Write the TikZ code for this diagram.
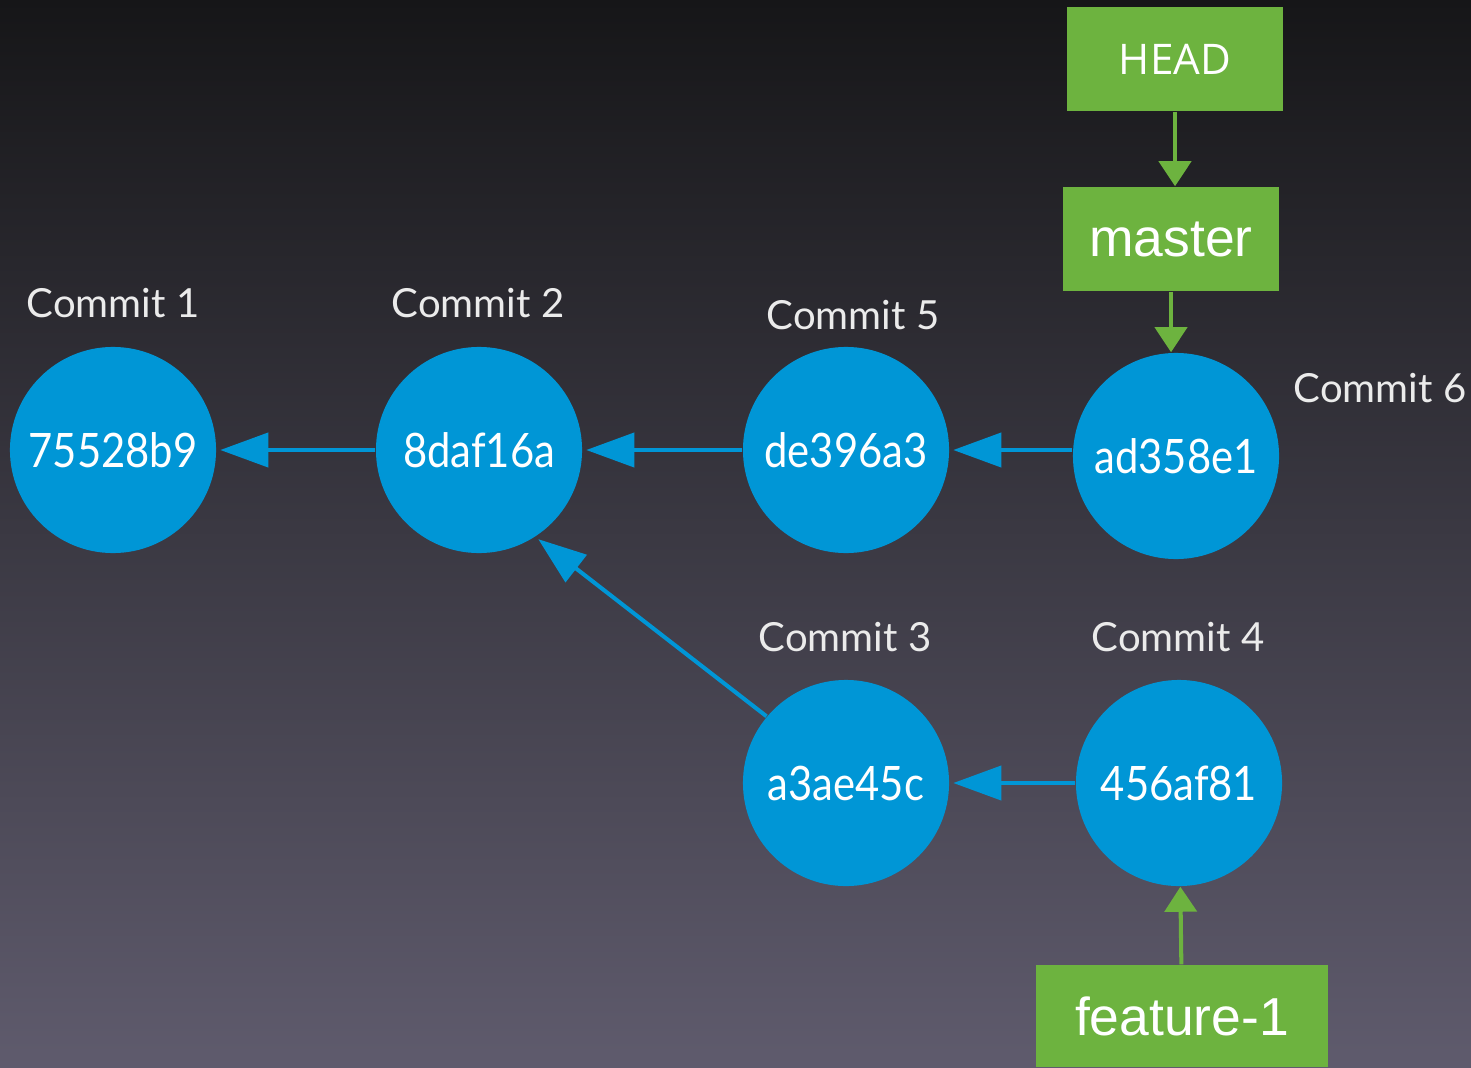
\documentclass[tikz,border=0pt]{standalone}
\usepackage{fontspec}
\setmainfont{Lato}
\newfontfamily\hashfont[FakeStretch=0.88]{Lato}
\newfontfamily\branchfont{Liberation Sans}
\newfontfamily\headfont{Open Sans}
\usetikzlibrary{arrows.meta}
\definecolor{commitblue}{RGB}{0,150,214}
\definecolor{branchgreen}{RGB}{109,179,63}
\definecolor{bgtop}{RGB}{22,22,24}
\definecolor{bgbottom}{RGB}{95,91,109}
\tikzset{
  commit/.style={circle, fill=commitblue, minimum size=2.06cm, inner sep=0pt, text=white, font=\hashfont\fontsize{13.5}{16}\selectfont},
  commitlabel/.style={text=white!92!black, font=\fontsize{11.4}{14}\selectfont},
  branch/.style={rectangle, fill=branchgreen, minimum width=2.16cm, minimum height=1.04cm, inner sep=0pt, text=white, font=\branchfont\fontsize{15.2}{18}\selectfont},
  parentarrow/.style={draw=commitblue, line width=1.15pt, -{Triangle[length=0.48cm, width=0.34cm]}, shorten >=1pt},
  refarrow/.style={draw=branchgreen, line width=1.15pt, -{Triangle[length=0.25cm, width=0.32cm]}},
}

\begin{document}
\begin{tikzpicture}[x=0.01cm, y=-0.01cm]
\shade[top color=bgtop, bottom color=bgbottom] (0,0) rectangle (1471,1067);
\useasboundingbox (0,0) rectangle (1471,1067);
% commits
\node[commit] (c1) at (113,450) {75528b9};
\node[commit] (c2) at (479,450) {8daf16a};
\node[commit] (c5) at (846,450) {de396a3};
\node[commit] (c6) at (1176,456) {ad358e1};
\node[commit] (c3) at (846,783) {a3ae45c};
\node[commit] (c4) at (1179,783) {456af81};
\node[commitlabel] (c1lbl) at (113,303) {Commit 1};
\node[commitlabel] (c2lbl) at (478,303) {Commit 2};
\node[commitlabel] (c5lbl) at (853,315) {Commit 5};
\node[commitlabel] (c6lbl) at (1380,388) {Commit 6};
\node[commitlabel] (c3lbl) at (845,637) {Commit 3};
\node[commitlabel] (c4lbl) at (1178,637) {Commit 4};
% branches
\node[branch, font=\headfont\fontsize{12}{14}\selectfont] (head) at (1175,59) {HEAD};
\node[branch] (master) at (1171,239) {master};
\node[branch, minimum width=2.91cm, minimum height=1.02cm] (feature) at (1182,1016) {feature-1};
% parents
\draw[parentarrow] (c2) -- (c1);
\draw[parentarrow] (c5) -- (c2);
\draw[parentarrow] (c6.west |- c5) -- (c5);
\draw[parentarrow] (c3.140) -- (c2.-57);
\draw[parentarrow] (c4) -- (c3);
% refs
\draw[refarrow] (head.south) -- (head.south |- master.north);
\draw[refarrow] (master.south) -- (master.south |- c6.north);
\draw[refarrow] (feature) -- (c4);
\end{tikzpicture}
\end{document}
